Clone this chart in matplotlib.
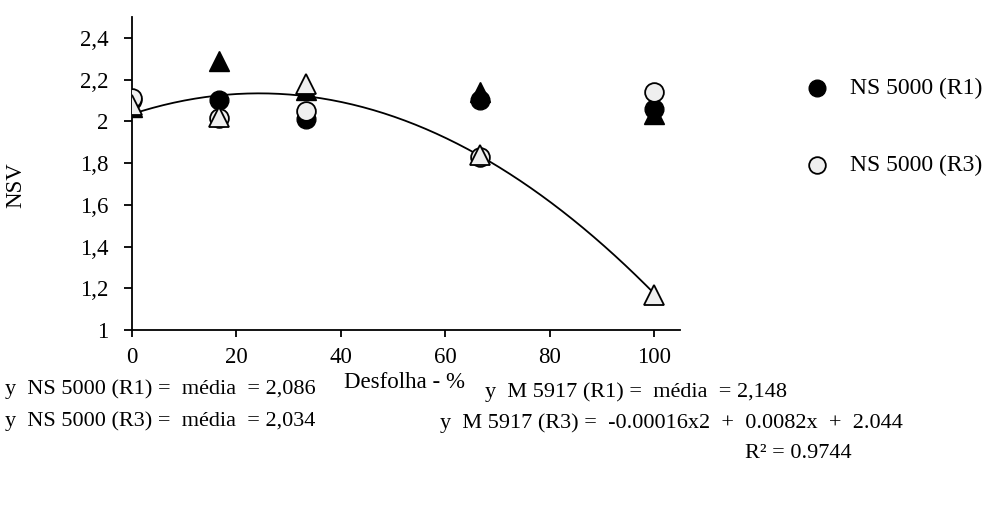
import matplotlib
matplotlib.use("Agg")
import matplotlib.pyplot as plt
import numpy as np

plt.rcParams['font.family'] = ['Liberation Serif', 'DejaVu Serif']

desfolha = [0, 16.7, 33.3, 66.7, 100]
ns5000_r1 = [2.10, 2.10, 2.01, 2.10, 2.06]
ns5000_r3 = [2.11, 2.015, 2.05, 1.83, 2.14]
m5917_r1 = [2.07, 2.29, 2.15, 2.14, 2.035]
m5917_r3 = [2.08, 2.02, 2.18, 1.84, 1.17]

x_ticks = [0, 20, 40, 60, 80, 100]
y_ticks = [1, 1.2, 1.4, 1.6, 1.8, 2, 2.2, 2.4]
y_tick_labels = ["1", "1,2", "1,4", "1,6", "1,8", "2", "2,2", "2,4"]

FS = 17
EQ_FS = 16

fig = plt.figure(figsize=(10, 5.2), dpi=100)
ax = fig.add_axes([0.132, 1 - 330/520, 0.548, (330 - 17)/520])

open_fill = "#efefef"
ms = 13.5
ax.plot(desfolha, ns5000_r1, 'o', ms=ms, mfc='black', mec='black', zorder=3)
ax.plot(desfolha, ns5000_r3, 'o', ms=ms, mfc=open_fill, mec='black', mew=1.3, zorder=4)
ax.plot(desfolha, m5917_r1, '^', ms=ms+1.5, mfc='black', mec='black', zorder=5)
ax.plot(desfolha, m5917_r3, '^', ms=ms+1.5, mfc=open_fill, mec='black', mew=1.3, zorder=6)

coef = np.polyfit(desfolha, m5917_r3, 2)
xs = np.linspace(0, 100, 200)
ax.plot(xs, np.polyval(coef, xs), color='black', lw=1.3, zorder=2)

ax.set_xlim(0, 105)
ax.set_ylim(1, 2.5)
ax.set_xticks(x_ticks)
ax.set_yticks(y_ticks)
ax.set_yticklabels(y_tick_labels)
ax.tick_params(axis='both', labelsize=16.5, direction='out', width=1.3, color='black')
ax.tick_params(axis='y', length=6, pad=11)
ax.tick_params(axis='x', length=5, pad=7)
for s in ['top', 'right']:
    ax.spines[s].set_visible(False)
for s in ['left', 'bottom']:
    ax.spines[s].set_linewidth(1.3)

fig.text(0.405, 1 - 382/520, "Desfolha - %", ha='center', va='center', fontsize=16.5)
fig.text(0.016, 1 - 185/520, "NSV", ha='center', va='center', rotation=90, fontsize=16.5)

# legend
fig.lines.append(plt.Line2D([0.817], [1 - 88/520], marker='o', ms=12, mfc='black', mec='black',
                            transform=fig.transFigure, figure=fig))
fig.lines.append(plt.Line2D([0.817], [1 - 165/520], marker='o', ms=12, mfc=open_fill, mec='black', mew=1.3,
                            transform=fig.transFigure, figure=fig))
fig.text(0.850, 1 - 88/520, "NS 5000 (R1)", ha='left', va='center', fontsize=FS)
fig.text(0.850, 1 - 165/520, "NS 5000 (R3)", ha='left', va='center', fontsize=FS)

fig.text(0.005, 1 - 389/520, "y  NS 5000 (R1) =  média  = 2,086", ha='left', va='center', fontsize=EQ_FS)
fig.text(0.005, 1 - 421/520, "y  NS 5000 (R3) =  média  = 2,034", ha='left', va='center', fontsize=EQ_FS)
fig.text(0.485, 1 - 392/520, "y  M 5917 (R1) =  média  = 2,148", ha='left', va='center', fontsize=EQ_FS)
fig.text(0.44, 1 - 423/520, "y  M 5917 (R3) =  -0.00016x2  +  0.0082x  +  2.044", ha='left', va='center', fontsize=EQ_FS)
fig.text(0.745, 1 - 454/520, "R² = 0.9744", ha='left', va='center', fontsize=EQ_FS)

fig.savefig("out.png", dpi=100)
